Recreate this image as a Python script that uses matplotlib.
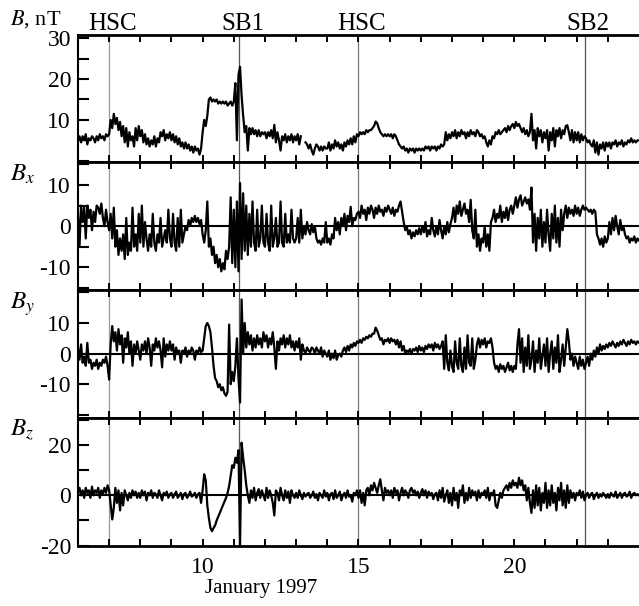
import numpy as np
import matplotlib
matplotlib.use('Agg')
import matplotlib.pyplot as plt

plt.rcParams['font.family'] = ['Liberation Serif', 'DejaVu Serif']
plt.rcParams['mathtext.fontset'] = 'stix'

nan = np.nan

# samples every 0.05 day, 20 per row, from Jan 6.00 to Jan 24.00
B = [
    5, 6, 4.5, 6, 5, 6.5, 4, 5.5, 5, 6, 5.5, 4.5, 6, 5, 6.5, 5.5, 6, 5, 6.5, 6,
    6.5, 10, 8, 11.5, 9, 10.5, 7.5, 9.5, 6, 8.5, 4.5, 8, 3.5, 7, 5, 6, 3.5, 8, 5, 8.5,
    6, 7.5, 4.5, 6.5, 4, 5.5, 3.5, 5, 4, 6, 3.5, 5.5, 4.5, 7, 6, 7.5, 5, 6.5, 5.5, 7,
    5, 6.5, 4.5, 6, 4, 5.5, 3.5, 4.5, 3, 4.5, 3, 4, 2.5, 3.5, 2, 3.5, 2.5, 3, 1.5, 3,
    7, 10, 8.5, 11, 15, 15.5, 14.5, 15, 14.5, 15, 14, 14.5, 14, 14.5, 14, 14.5, 13.5, 14, 14.5, 13.5,
    14.5, 19, 5, 21, 23, 16, 11, 7, 8.5, 2.5, 8, 6.5, 8, 6.5, 7.5, 6, 7.5, 6, 7, 6.5,
    7, 5.5, 7, 6, 7.5, 5.5, 8.8, 4.5, 7, 5, 2.5, 6, 5, 6.5, 4.5, 6, 5, 6.5, 4.5, 6,
    5, 6.5, 4, 6, nan, nan, 4.5, 4, 3, 4, 2.5, 1.5, 3, 4, 3.5, 2.5, 3.5, 2.5, 3.5, 3,
    3, 4.5, 2.5, 4, 3, 5, 3.5, 4.5, 3, 4, 2.5, 4.5, 3.5, 5, 4, 5.5, 4, 6, 4.5, 6.5,
    6, 7, 6.5, 7, 6.5, 7.5, 7, 7.5, 7.5, 8, 8.5, 9.6, 9.2, 8, 7, 6.5, 6, 6.5, 6, 6.5,
    6, 6.5, 5.5, 6.5, 6, 5, 4, 3.5, 3, 3.5, 2.5, 3, 2, 3, 2.5, 3, 2, 3, 2.5, 3,
    2.5, 3, 2.5, 3.5, 3, 3.5, 2.5, 3.5, 3, 3.5, 2.5, 3.5, 3, 4, 3.5, 4, 7, 5, 6.5, 5.5,
    7, 6, 7.5, 5.5, 7, 6, 7.5, 6.5, 7, 5.5, 7, 6, 7.5, 6.5, 7, 6, 7.5, 7, 6, 6.5,
    5.5, 6, 4.5, 3.5, 5, 4, 6, 5.5, 7, 6.5, 7.5, 6.5, 7, 7.5, 8, 7, 8.5, 7.5, 8.5, 9,
    8, 9.5, 8.5, 9, 8, 7, 8, 6.5, 7.5, 6, 7, 11.5, 5, 7.5, 3, 8, 6, 7.5, 4.5, 7,
    5.5, 7.5, 2.5, 7, 5, 8, 3.5, 7.5, 6, 8, 5.5, 7.5, 6.5, 8.5, 8.7, 7, 5, 7.5, 4.5, 7,
    5, 7, 4.5, 6.5, 5, 6, 5.5, 4.5, 5, 4, 3.5, 5, 2, 4.5, 1.5, 4, 3, 4.5, 2.5, 4.5,
    3.5, 4.5, 3, 4.5, 4, 5, 3.5, 4.5, 4, 5, 3.5, 4.5, 4, 5, 4.5, 5.5, 4.5, 5, 4.5, 5,
    5,
]

Bx = [
    3, -5, 5, 1, 4.5, -3, 5, 2, 4, -1, 3.5, 1, 5, 4.5, 3, 5.5, 2, 0, 4, 1,
    -1, 3, -3, 4.5, -5, -1, -7, -3, -6, -2, -8, 2, -7, -4, -6, 4.5, -5, -2, -6, 3,
    -4, 5, -5, 1, -3, -6, -2, -5, 3, -4, -6, -2, -4, 2, -5, -3, -1, -4, 4, -3,
    -5, 3, -4, -6, 2, -5, 4, -4, -2, 0, -1, 1.5, 0, 2, 1, 2.5, 1, 2, 0.5, 1.5,
    -2, -4, -1, 6, -5, -3, -7, -5, -9, -7, -10, -8, -11, -9, -10.5, -6, -8, -5, 7, -9,
    4, -10, 6, -11, 10.5, -8, 8, -6, 5, -7, 3, -5, 6, -4, -6, 4, -5, -3, 5, -4,
    -5, 3, -4, -6, 5, -5, -3, 2, -5, -4, 6, -4, -5, 3, -4, -2, -4, 4, -3, -4,
    -3, 2, -4, 4, -3, 0, -2, 1, -1, -2, 0.5, -1.5, 0, -3, -4, -3.5, -4.5, -3, -4, 1,
    -4, -3, -4.5, -2, -3, 2, -1, 1, -2, 2, 0, 3, -1, 2.5, 1, 4.7, 0, 2, 1.5, 3,
    3.5, 2, 5, 3, 4, 1.5, 4.5, 3, 5, 4, 2, 4.5, 3, 5, 3.5, 4, 2.5, 4.5, 3.5, 5,
    4, 3, 4.5, 2.5, 4, 3.5, 5, 6, 3.5, 1, -1, 0, -2, -1, -3, -1.5, -2.5, -1, -2, -0.5,
    -2, 0, -1.5, 1, -2.5, -1, -2, 2, -1, -2.5, 0, -2, 1.5, -1, -3, 0, -2, 1, -1.5, 0.5,
    2, 4.5, 1, 5, 3, 6, 2.5, 4, 5.5, 3, 4, 1, 6.4, -1, -3, 4, -5, -2, -6, -3,
    -4, 0, -5, -2, -6, 1, 2, 4, 1, 3, 2, 5, 1, 3.5, 2, 4.5, 1.5, 4, 5, 3,
    5, 7, 4.5, 6.5, 7.5, 5, 6, 7, 5.5, 6.5, 4, 9.4, -4, 3, -6, 2, -3, 4, -5, 1,
    -4, 4, -2, -6, 3, -3, 5, -4, 2, -5, 4, -1, 3, 5, 2, 4.5, 3, 4, 2.5, 5,
    3, 4.5, 2.5, 4, 5, 4, 4.5, 4, 3.5, 4, 3, 4, 3.5, -2, -3, -4.5, -3, -5, -2.5, -4,
    -3, 1, -2, 2, -1, 2.5, 0, -2, 1.5, -1, 0, -2, -3, -2.5, -4, -3, -3.5, -2.5, -4, -3,
    -3.5,
]

By = [
    2, -2, 3, -3, -1, -4, 3.5, -3, -2, -5, -3, -4, -2, -5, -3, -4, -2, -3, -1, -4,
    -8.5, 3, 9, 4, 7, 1, 8, 3, 6, -3, 5, 2, 7, 0, 4, -4, 3, 0, 4, 1,
    -2, 3, 1, 4, 0, 5, 2, -4, 3, 1, 5, 2, 4, 1, -4.5, 5, -1, 3, 1, 4,
    1, 3, -2, 2, 0, 1, -3, 1, 0, 2, -1, 1, 0, 2, 1, -2, 1, 0, 2, 0.5,
    1, 5, 9, 10, 9, 7, 2, -4, -8, -9, -11, -10, -12, -11, -13, -13.8, -12.5, 9.5, -10, -6,
    -9, -4, 5, -8, -16, 17.7, 0, 10, 2, 7, 3, 6, 1, 5, 2, 6, 3, 5, 2, 7,
    4, 6, 2, 5, 3, 7, 2, -5, 4, 1, 5, 3, 6, 2, 5, 3, 6, 2, 4, 1,
    4, 2, 5, -2, 3, 1, 0, 2, 1, 0.5, 2, 1.5, 0, 2, 1, 0, 2, -1, 1, 0,
    -1, 1, -2, 0, -1.5, 1, -2, -0.5, 0, -1, 1, 2, 0.5, 2.5, 1, 3, 2, 3.5, 2.5, 4,
    3.5, 4.5, 3.5, 5, 4.5, 5.5, 5, 6, 5.5, 6.5, 6.5, 8.5, 7.5, 6, 4.5, 5, 3, 4.5, 4, 5,
    3.5, 5, 4, 4.5, 3, 4.5, 2, 4, 1, 2.5, 0, 1, 0.5, 1.5, 0, 1.5, 1, 2, 0.5, 2.5,
    1, 2, 0.5, 2.5, 1.5, 3, 2, 3, 1, 3.5, 2, 3, 1.5, 2.5, 4, -5, 6, -3, -5.5, 1,
    -4, -6, 4, -3, -5, 5, -4, -6, 2, -5, 6, -3, -4, 5, -5, -2, 3, 5, 2, 4.5,
    3, 5, 2, 4, 3.5, 5, 2, -3, -5, -4, -6, -3.5, -5, -4, -6, -4.5, -3, -5.5, -4, -6,
    -4, -5, 3, 8, -3, 5, -6, 2, -4, 6, -5, -2, 4, -6, 1, -3, 5, -5, -1, 3,
    -4, 5, -6, 0, 4, -5, 2, -3, 6, -6, -2, 3, -4, 2, 8, 4, -2, 0, -4, -1,
    -3, -5, -1, -4, -2, -5, -3, -1, -4, 0, -2, 1, -1, 2, 0, 3, 1, 2.5, 1.5, 3,
    2, 3.5, 2.5, 4, 3, 2, 3.5, 2.5, 4, 3, 4.5, 3.5, 2.5, 4, 3, 4.5, 3.5, 4, 3, 4,
    3.5,
]

Bz = [
    1, 3, 0, 2, -1, 3, 1, 2, -1, 3.5, 0, 2, 1, 3, -1, 2, 0.5, 3, 1, 4,
    2, -4, -9.6, -5, 3, -3, 2, -6, 1, -4, 2, 0, -2, 1, -1, 2, 0, 1.5, -1, 1,
    -1, 2, 0, 1.5, -2, 1, 0, 2, -1, 1, 0.5, -1, 2, 0, -2, 1, 0, 1.5, -1, 0.5,
    1, -1, 0.5, 1.5, -1, 0, 1, -1.5, 0.5, 1, -1, 0, 1.5, -0.5, 0, 1, -1, 0.5, 1, -3,
    2, 8.4, 6, -4, -9, -13, -14.3, -13, -12, -10, -8.5, -7, -5.5, -4, -2.5, -1, 1, 3.7, 8, 12,
    11, 15, 13, 18, -20, 21, 15, 10, 4, 0, -3, 2, -1, 3, -2, 1, 2.5, -1, 2, 0,
    -2, 3, -1, 2, 0, -3, -8, 2, 1, -2, 3, 0, -2, 2, -1, 1.5, -3, 2, 0, -1,
    1, -1, 2, 0, -1.5, 1, -0.5, 0.5, 1, -1, 0, 1.5, -1, 0.5, -2, 1, 0, -1, 2, -0.5,
    1, -2, 0.5, 1, -1.5, 2, -1, 0, 1.5, -2, 0, 1, -1, 2, -0.5, 0, -2.5, 1, 0, 2,
    -1, 2, -3, 1, -4, 2, 3, 0, 4, 2, 5, 3, 1, 4, 6.4, 2, -2, 3, 1, 2,
    0, 2, -1, 3, 1, 2, -2, 1, 3, 0, 2, 1, -1, 2, 3, 1, 2, 0, 1.5, -1,
    1, 2.5, 0, 2, -1, 1.5, 0, 1, -1.5, 0.5, 1, -2, 2, -1, 3, -2.5, 0, 2, -3, 1,
    -4, 3, -2, 1, -5, 2, 0, 4, -3, 1, -2, 3, -1, 2, 0, 1.5, -2, 2, -1, 1,
    0.5, 2, -1, 3, -2, 1, 0, 2, -4, -5, -2, 1, -1, 2, 3, 4, 2, 5, 3, 6,
    4, 5, 3, 7, 4, 6, 2, 4, -2, 3, -3, -7, 2, -5, 4, -4, 3, -6, 1, -3,
    5, -5, 2, -4, 4, -3, 1, -6, 3, -2, 5, -4, 2, -5, 4, -3, 2, -1, 1, -2,
    1, 0, 2, -1, 1.5, -2, 0, 1, -1, 0.5, 1, -1.5, 0, 1, -1, 0.5, -0.5, 1, 0, -1,
    0.5, -1, 1, 0, -0.5, 1.5, -1, 0, 1, -1, 0.5, 1, -0.5, 0, 1.5, -1, 0.5, 1, 0, 0.5,
    0,
]

t = np.linspace(6, 24, len(B))

events = ['HSC', 'SB1', 'HSC', 'SB2']
event_days = [7.0, 11.18, 15.0, 22.27]
event_colors = ['#999999', '#555555', '#777777', '#555555']

series = [B, Bx, By, Bz]
labels = [r'$B$, nT', r'$B_x$', r'$B_y$', r'$B_z$']
ylims = [(-0.4, 30.9), (-15.6, 15.5), (-21.1, 20.7), (-20.2, 30.8)]
yticks = [[0, 5, 10, 15, 20, 25, 30], [-15, -10, -5, 0, 5, 10, 15],
          [-20, -10, 0, 10, 20], [-20, -10, 0, 10, 20, 30]]
ylabels_shown = [[10, 20, 30], [-10, 0, 10], [-10, 0, 10], [-20, 0, 20]]
days = list(range(7, 24))

fig = plt.figure(figsize=(6.39, 6.06), dpi=100)
gs = fig.add_gridspec(4, 1, left=0.122, right=1.0, top=0.943, bottom=0.099, hspace=0)

for i in range(4):
    ax = fig.add_subplot(gs[i])
    for d, c in zip(event_days, event_colors):
        ax.axvline(d, color=c, lw=0.9, zorder=1)
    if i > 0:
        ax.axhline(0, color='black', lw=1.5, zorder=2)
    ax.plot(t, series[i], color='black', lw=1.6, zorder=3)
    ax.set_xlim(6, 24)
    ax.set_ylim(*ylims[i])
    ax.set_yticks(yticks[i])
    ax.set_yticklabels([str(v) if v in ylabels_shown[i] else '' for v in yticks[i]])
    ax.tick_params(axis='y', direction='in', length=8, width=1.5, labelsize=17, pad=5)
    ax.set_xticks(days)
    ax.tick_params(axis='x', direction='in', top=True, bottom=True, length=5, width=1.4,
                   labelsize=17, pad=8)
    if i == 3:
        ax.set_xticklabels([str(d) if d % 5 == 0 else '' for d in days])
    else:
        ax.set_xticklabels([])
    ax.spines['right'].set_visible(False)
    ax.spines['top'].set_linewidth(2)
    ax.spines['bottom'].set_linewidth(2)
    ax.spines['left'].set_linewidth(1.5)
    if i == 0:
        ax.text(-0.122, 1.075, labels[i], transform=ax.transAxes, fontsize=16,
                va='baseline', ha='left')
        for name, d in zip(events, event_days):
            ax.text(d + 0.1, 1.035, name, transform=ax.get_xaxis_transform(),
                    fontsize=18, ha='center', va='baseline')
    else:
        ax.text(-0.122, 1.0, labels[i], transform=ax.transAxes, fontsize=18,
                va='top', ha='left')

fig.text(0.409, 0.021, 'January 1997', fontsize=15, ha='center', va='baseline')

fig.savefig('out.png', dpi=100)
